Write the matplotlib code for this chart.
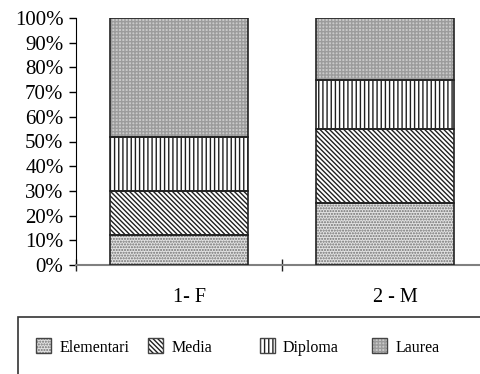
import matplotlib
matplotlib.use("Agg")
import matplotlib.pyplot as plt
import matplotlib.transforms as mtransforms
from matplotlib.patches import Rectangle
import numpy as np

plt.rcParams['font.family'] = ['Liberation Serif', 'DejaVu Serif']
plt.rcParams['hatch.linewidth'] = 1.0

groups = ['1- F', '2 - M']
levels = ['Elementari', 'Media', 'Diploma', 'Laurea']
elementari = [12, 25]
media = [18, 30]
diploma = [22, 20]
laurea = [48, 25]
series = [elementari, media, diploma, laurea]

# face colour, hatch, hatch colour for each level
styles = [
    ('#e2e2e2', '......', '#707070'),
    ('white', '\\' * 7, '#202020'),
    ('white', '||||', '#202020'),
    ('#cacaca', '+++++', '#9c9c9c'),
]

fig = plt.figure(figsize=(4.8, 3.74), dpi=100)
ax = fig.add_axes([76 / 480, 1 - 265 / 374, 1 - 76 / 480, (265 - 18) / 374])

x = np.arange(len(groups))
width = 0.667
bottom = np.zeros(len(groups))
for vals, (fc, hatch, hc) in zip(series, styles):
    ax.bar(x, vals, width, bottom=bottom, color=fc, edgecolor=hc,
           hatch=hatch, linewidth=0, zorder=2)
    ax.bar(x, vals, width, bottom=bottom, fill=False, edgecolor='#222222',
           linewidth=1.2, zorder=3)
    bottom += vals

ax.set_xlim(-0.5, 1.46)
ax.set_ylim(0, 100)
ax.set_yticks(range(0, 101, 10))
ax.set_yticklabels([f'{v}%' for v in range(0, 101, 10)], fontsize=15)
ax.tick_params(axis='y', direction='out', length=5, width=1, pad=4, color='black')

# category boundaries carry the ticks, names sit under the bars
ax.set_xticks([-0.5, 0.5])
ax.set_xticklabels([])
ax.tick_params(axis='x', direction='inout', length=8, width=1, color='#222222')
offset = mtransforms.ScaledTranslation(10 / 100, 0, fig.dpi_scale_trans)
for xi, name in zip(x, groups):
    ax.text(xi, -0.13, name, transform=mtransforms.blended_transform_factory(
        ax.transData, ax.transAxes) + offset,
        ha='center', va='center', fontsize=14.5)

for side in ('top', 'right'):
    ax.spines[side].set_visible(False)
ax.spines['left'].set_color('black')
ax.spines['bottom'].set_color('#808080')
ax.spines['bottom'].set_linewidth(1.5)

# legend box along the bottom
fig.add_artist(Rectangle((18 / 480, -0.1), 1.2, 0.1 + 1 - 317 / 374,
                         transform=fig.transFigure, fill=False,
                         edgecolor='#333333', linewidth=1.2))
patch_x = [36, 148, 260, 372]
text_x = [60, 172, 283, 396]
for px, tx, name, (fc, hatch, hc) in zip(patch_x, text_x, levels, styles):
    fig.add_artist(Rectangle((px / 480, 1 - 353 / 374), 15 / 480, 15 / 374,
                             transform=fig.transFigure, facecolor=fc,
                             edgecolor=hc, hatch=hatch, linewidth=0))
    fig.add_artist(Rectangle((px / 480, 1 - 353 / 374), 15 / 480, 15 / 374,
                             transform=fig.transFigure, fill=False,
                             edgecolor='#444444', linewidth=1))
    fig.text(tx / 480, 1 - 348 / 374, name, ha='left', va='center', fontsize=11.5)

fig.savefig('out.png', dpi=100)
